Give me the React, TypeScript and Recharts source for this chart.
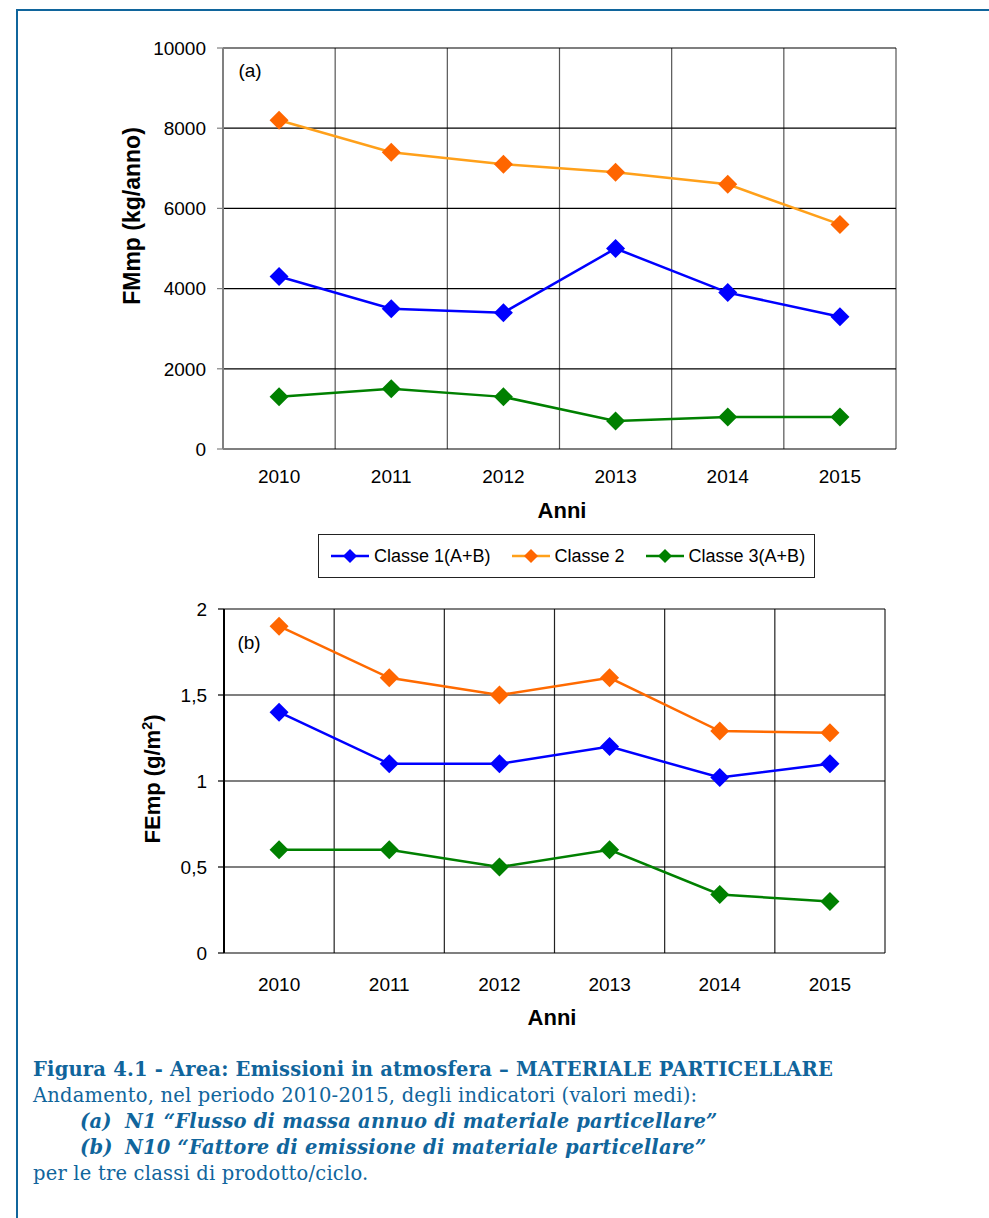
import React from 'react';
import { LineChart, Line, XAxis, YAxis, CartesianGrid } from 'recharts';

// anni e valori
const anni = ['2010', '2011', '2012', '2013', '2014', '2015'];
const nomiClassi = ['Classe 1(A+B)', 'Classe 2', 'Classe 3(A+B)'];

// (a) FMmp kg/anno
const massaClasse1 = [4300, 3500, 3400, 5000, 3900, 3300];
const massaClasse2 = [8200, 7400, 7100, 6900, 6600, 5600];
const massaClasse3 = [1300, 1500, 1300, 700, 800, 800];
const ticksMassa = [0, 2000, 4000, 6000, 8000, 10000];

// (b) FEmp g/m2
const fattoreClasse1 = [1.4, 1.1, 1.1, 1.2, 1.02, 1.1];
const fattoreClasse2 = [1.9, 1.6, 1.5, 1.6, 1.29, 1.28];
const fattoreClasse3 = [0.6, 0.6, 0.5, 0.6, 0.34, 0.3];
const ticksFattore = [0, 0.5, 1, 1.5, 2];

const COLORI_LINEA = ['#0000ff', '#ffa01a', '#008000'];
const COLORI_MARKER = ['#0000ff', '#ff6600', '#008000'];
const BLU_CORNICE = '#10659c';

const datiMassa = anni.map((a, i) => ({
	x: i + 0.5,
	c1: massaClasse1[i],
	c2: massaClasse2[i],
	c3: massaClasse3[i],
}));

const datiFattore = anni.map((a, i) => ({
	x: i + 0.5,
	c1: fattoreClasse1[i],
	c2: fattoreClasse2[i],
	c3: fattoreClasse3[i],
}));

const confini = anni.map((_, i) => i).concat([anni.length]);
const centri = anni.map((_, i) => i + 0.5);

const rombo = (fill: string) => (props: any) => {
	const { cx, cy, index } = props;
	if (cx == null || cy == null) return <g key={index} />;
	const r = 9.5;
	return (
		<path
			key={index}
			d={`M${cx},${cy - r}L${cx + r},${cy}L${cx},${cy + r}L${cx - r},${cy}Z`}
			fill={fill}
		/>
	);
};

const tickVuoto = () => <g />;

interface PannelloProps {
	data: any[];
	ticks: number[];
	dominio: [number, number];
	width: number;
	height: number;
	margin: any;
	yWidth: number;
	xHeight: number;
	xMargin: number;
	coloreAsseY: string;
	coloreGrigliaV: string;
	coloriLinea: string[];
	formato?: (v: number) => string;
}

const Pannello = ({
	data,
	ticks,
	dominio,
	width,
	height,
	margin,
	yWidth,
	xHeight,
	xMargin,
	coloreAsseY,
	coloreGrigliaV,
	coloriLinea,
	formato,
}: PannelloProps) => (
	<LineChart width={width} height={height} data={data} margin={margin}>
		<CartesianGrid xAxisId='griglia' horizontal={false} stroke={coloreGrigliaV} strokeWidth={1.2} />
		<CartesianGrid xAxisId='griglia' vertical={false} stroke='#000' strokeWidth={1.2} />
		<XAxis
			xAxisId='griglia'
			type='number'
			dataKey='x'
			domain={[0, anni.length]}
			ticks={confini}
			interval={0}
			tick={tickVuoto}
			height={0}
			tickSize={6}
			axisLine={{ stroke: '#333', strokeWidth: 1.5 }}
			tickLine={{ stroke: '#333', strokeWidth: 1.2 }}
		/>
		<XAxis
			xAxisId='anni'
			type='number'
			dataKey='x'
			domain={[0, anni.length]}
			ticks={centri}
			interval={0}
			tickFormatter={(v) => anni[Math.floor(v)]}
			axisLine={false}
			tickLine={false}
			tickSize={0}
			tickMargin={xMargin}
			height={xHeight}
			tick={{ fill: '#000', fontSize: 19 }}
		/>
		<YAxis
			type='number'
			domain={dominio}
			ticks={ticks}
			interval={0}
			width={yWidth}
			tickSize={6}
			tickMargin={11}
			tickFormatter={formato}
			axisLine={{ stroke: coloreAsseY, strokeWidth: 2 }}
			tickLine={{ stroke: coloreAsseY, strokeWidth: 1.2 }}
			tick={{ fill: '#000', fontSize: 19 }}
		/>
		{['c1', 'c2', 'c3'].map((k, i) => (
			<Line
				key={k}
				xAxisId='griglia'
				dataKey={k}
				name={nomiClassi[i]}
				type='linear'
				stroke={coloriLinea[i]}
				strokeWidth={2.5}
				dot={rombo(COLORI_MARKER[i])}
				activeDot={false}
				isAnimationActive={false}
			/>
		))}
	</LineChart>
);

const titoloY = (testo: React.ReactNode, x: number, y: number, size: number) => (
	<div
		style={{
			position: 'absolute',
			left: x,
			top: y,
			transform: 'translate(-50%, -50%) rotate(-90deg)',
			whiteSpace: 'nowrap',
			fontWeight: 'bold',
			fontSize: size,
		}}
	>
		{testo}
	</div>
);

const testoAssoluto = (testo: string, x: number, y: number, extra: any = {}) => (
	<div
		style={{
			position: 'absolute',
			left: x,
			top: y,
			transform: 'translate(-50%, -50%)',
			whiteSpace: 'nowrap',
			...extra,
		}}
	>
		{testo}
	</div>
);

const Legenda = () => (
	<div
		style={{
			position: 'absolute',
			left: 318,
			top: 534,
			width: 497,
			height: 44,
			boxSizing: 'border-box',
			border: '1px solid #222',
			display: 'flex',
			alignItems: 'center',
			paddingLeft: 12,
			fontSize: 18,
			whiteSpace: 'nowrap',
		}}
	>
		{nomiClassi.map((nome, i) => (
			<div
				key={nome}
				style={{ display: 'flex', alignItems: 'center', marginRight: 21, flexShrink: 0 }}
			>
				<svg width={38} height={20} style={{ marginRight: 5, flexShrink: 0 }}>
					<line x1={0} y1={10} x2={38} y2={10} stroke={COLORI_LINEA[i]} strokeWidth={2.5} />
					<path d='M19,3L26,10L19,17L12,10Z' fill={COLORI_MARKER[i]} />
				</svg>
				<span>{nome}</span>
			</div>
		))}
	</div>
);

const App = () => {
	return (
		<div
			style={{
				position: 'absolute',
				left: 0,
				top: 0,
				width: 989,
				height: 1218,
				background: '#fff',
				fontFamily: '"Liberation Sans", Arial, sans-serif',
				color: '#000',
				overflow: 'hidden',
			}}
		>
			<div style={{ position: 'absolute', left: 16, top: 9, width: 973, height: 2, background: BLU_CORNICE }} />
			<div style={{ position: 'absolute', left: 16, top: 9, width: 2, height: 1209, background: BLU_CORNICE }} />

			<div style={{ position: 'absolute', left: 0, top: 0 }}>
				<Pannello
					data={datiMassa}
					ticks={ticksMassa}
					dominio={[0, 10000]}
					width={989}
					height={500}
					margin={{ top: 48, right: 93, left: 0, bottom: 0 }}
					yWidth={223}
					xHeight={51}
					xMargin={21}
					coloreAsseY='#808080'
					coloreGrigliaV='#555'
					coloriLinea={COLORI_LINEA}
				/>
			</div>
			{titoloY('FMmp (kg/anno)', 132, 216, 23)}
			{testoAssoluto('(a)', 250, 71, { fontSize: 19 })}
			{testoAssoluto('Anni', 562, 511, { fontSize: 22, fontWeight: 'bold' })}

			<Legenda />

			<div style={{ position: 'absolute', left: 0, top: 560 }}>
				<Pannello
					data={datiFattore}
					ticks={ticksFattore}
					dominio={[0, 2]}
					width={989}
					height={470}
					margin={{ top: 49, right: 104, left: 0, bottom: 0 }}
					yWidth={224}
					xHeight={77}
					xMargin={25}
					coloreAsseY='#000'
					coloreGrigliaV='#222'
					coloriLinea={['#0000ff', '#ff6a00', '#008000']}
					formato={(v) => String(v).replace('.', ',')}
				/>
			</div>
			{titoloY(
				<span>
					FEmp (g/m<sup style={{ fontSize: '0.65em' }}>2</sup>)
				</span>,
				153,
				779,
				22
			)}
			{testoAssoluto('(b)', 249, 643, { fontSize: 19 })}
			{testoAssoluto('Anni', 552, 1018, { fontSize: 22, fontWeight: 'bold' })}

			<div
				style={{
					position: 'absolute',
					left: 33,
					top: 1057,
					fontFamily: '"DejaVu Serif", serif',
					fontSize: 19.5,
					letterSpacing: 0.2,
					lineHeight: '26px',
					color: BLU_CORNICE,
					whiteSpace: 'nowrap',
				}}
			>
				<div style={{ fontWeight: 'bold' }}>
					Figura 4.1 - Area: Emissioni in atmosfera – MATERIALE PARTICELLARE
				</div>
				<div>Andamento, nel periodo 2010-2015, degli indicatori (valori medi):</div>
				<div style={{ fontWeight: 'bold', fontStyle: 'italic', display: 'flex' }}>
					<span style={{ marginLeft: 47, width: 45 }}>(a)</span>
					<span>N1 “Flusso di massa annuo di materiale particellare”</span>
				</div>
				<div style={{ fontWeight: 'bold', fontStyle: 'italic', display: 'flex' }}>
					<span style={{ marginLeft: 47, width: 45 }}>(b)</span>
					<span>N10 “Fattore di emissione di materiale particellare”</span>
				</div>
				<div>per le tre classi di prodotto/ciclo.</div>
			</div>
		</div>
	);
};

export default App;
